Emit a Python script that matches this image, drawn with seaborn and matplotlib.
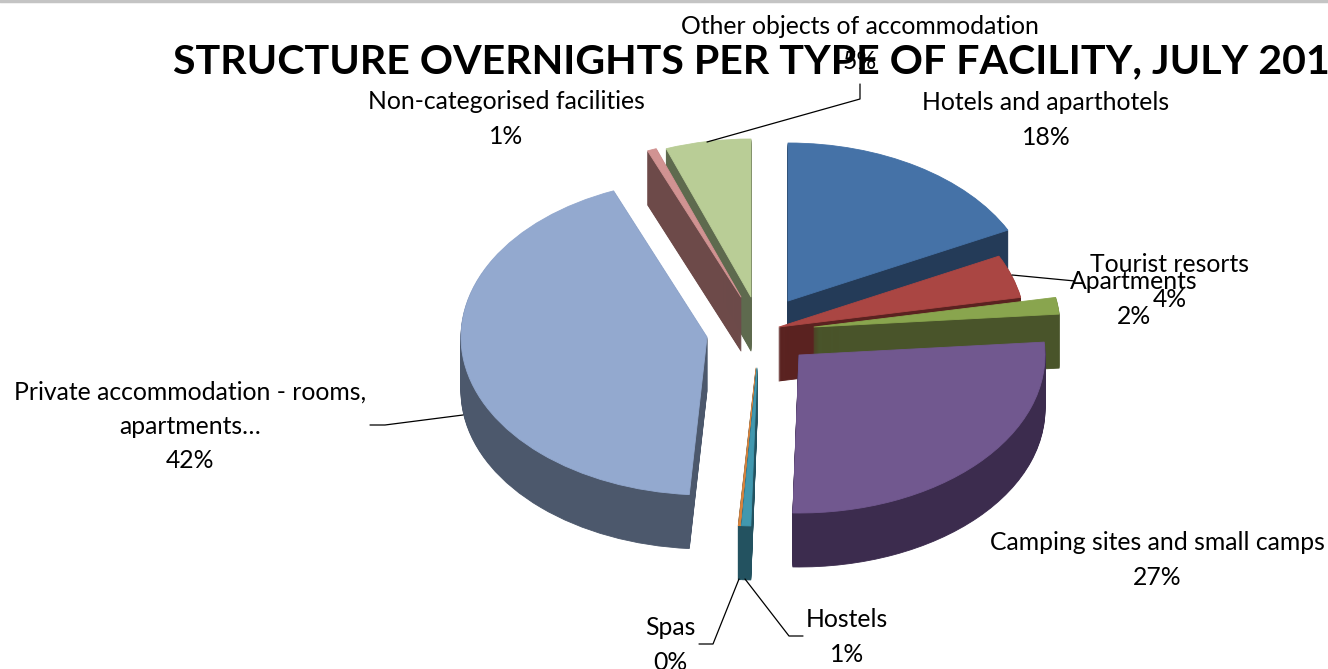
import matplotlib
matplotlib.use("Agg")
import matplotlib.pyplot as plt
import seaborn as sns

# shares, clockwise from 12 o'clock
categories = ["Hotels and aparthotels", "Tourist resorts", "Apartments",
              "Camping sites and small camps", "Hostels", "Spas",
              "Private accommodation - rooms,\napartments…",
              "Non-categorised facilities", "Other objects of accommodation"]
values = [17.6, 4.4, 1.7, 26.7, 0.6, 0.15, 42.65, 0.6, 5.6]
percent_labels = ["18%", "4%", "2%", "27%", "1%", "0%", "42%", "1%", "5%"]
title_text = "STRUCTURE OVERNIGHTS PER TYPE OF FACILITY, JULY 2011"

top_colors = ["#4572A7", "#AA4643", "#89A54E", "#71588F", "#4198AF",
              "#DB843D", "#93A9CF", "#D19392", "#B9CD96"]
wall_colors = ["#243B58", "#5A2220", "#49542A", "#3C2C4E", "#235260",
               "#235260", "#4C586C", "#6D4A49", "#5E6A4E"]

W, H = 1328, 669
RX, RY = 246, 158   # pie radius in pixels, squashed by the tilt
DEPTH = 54

# pixel position of each slice tip (the explosion in the original)
tips = [(788, 301), (779, 327), (814, 327), (799, 355), (757, 368),
        (756, 368), (707, 337), (741, 297), (751, 297)]
draw_order = [8, 7, 0, 1, 2, 6, 5, 4, 3]

# pixel position of each label block
label_pos = [(1046, 120), (1170, 282), (1134, 299), (1157, 560), (847, 637),
             (670, 645), (190, 426), (506, 119), (860, 44)]
leaders = [([707, 860, 860], [142, 99, 84]),
           ([1012, 1075], [275, 281]),
           ([463, 385, 370], [415, 425, 425]),
           ([739, 713, 699], [579, 644, 644]),
           ([745, 789, 803], [579, 636, 636])]

sns.set_theme(style="white")
plt.rcParams["font.family"] = ["Lato", "DejaVu Sans"]

fig = plt.figure(figsize=(W / 100, H / 100), dpi=100, facecolor="white")
ax = fig.add_axes([0, 0, 1, 1])

# extrude the pie: stack darker copies downwards, top face last
for d in range(DEPTH, -1, -1):
    colors = sns.color_palette(wall_colors if d else top_colors)
    wedges, _ = ax.pie(values, colors=colors, startangle=90, counterclock=False,
                       wedgeprops={"linewidth": 0})
    for i, w in enumerate(wedges):
        x, y = tips[i]
        w.set_center((x / RX, (H - y - d) / RY))
        w.set_zorder(draw_order.index(i) * 100 + (DEPTH - d) + 1)
        # thin same-colour stroke stops the narrow tips fading out
        w.set_edgecolor(colors[i])
        w.set_linewidth(0.6)
        w.set_joinstyle("round")

ax.set_aspect("auto")
ax.set_xlim(0, W / RX)
ax.set_ylim(0, H / RY)
ax.set_axis_off()

# text and leader lines live in plain pixel space on top
over = fig.add_axes([0, 0, 1, 1], facecolor="none")
over.set_xlim(0, W)
over.set_ylim(H, 0)
over.set_axis_off()

over.plot([0, W], [0.5, 0.5], color="#C4C4C4", lw=2.5, clip_on=False)
for xs, ys in leaders:
    over.plot(xs, ys, color="black", lw=0.9)

over.text(173, 62, title_text, fontsize=29.6, fontweight="bold", color="black",
          ha="left", va="center", clip_on=False)

for name, pct, (x, y) in zip(categories, percent_labels, label_pos):
    over.text(x, y, name + "\n" + pct, fontsize=17.8, color="black",
              ha="center", va="center", linespacing=1.6)

fig.savefig("out.png", dpi=100)
plt.close(fig)
